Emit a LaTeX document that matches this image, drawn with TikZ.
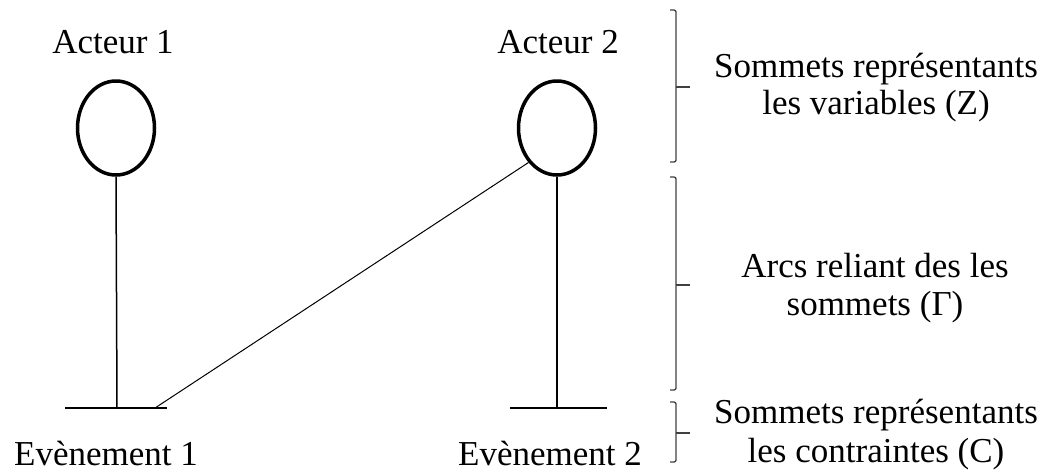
\documentclass[tikz,border=0pt]{standalone}
\usepackage{fontspec}
\setmainfont{Liberation Serif}
\usetikzlibrary{shapes.geometric}
\begin{document}
\begin{tikzpicture}[x=1pt,y=-1pt,
  lbl/.style={font=\fontsize{35}{38}\selectfont, inner sep=0pt, anchor=base},
  var/.style={draw, ellipse, line width=3.5pt, minimum width=77pt, minimum height=94pt, inner sep=0pt},
  stem/.style={line width=1.5pt},
  bar/.style={line width=2pt},
  arc/.style={line width=1pt},
  brace/.style={line width=1.3pt, draw=black!75, rounded corners=2pt},
  tick/.style={line width=1.3pt, draw=black!75}
]
\useasboundingbox (0,0) rectangle (1056,472);
% actors
\node[lbl] (t1) at (113,53) {Acteur 1};
\node[lbl] (t2) at (558,53) {Acteur 2};
\node[var] (a1) at (116,128) {};
\node[var] (a2) at (557,128) {};
% events
\coordinate (e1l) at (65,408);
\coordinate (e1c) at (117,408);
\coordinate (e1r) at (167,408);
\coordinate (e1a) at (155,408);
\coordinate (e2l) at (510,408);
\coordinate (e2c) at (557,408);
\coordinate (e2r) at (607,408);
\draw[bar] (e1l) -- (e1r);
\draw[bar] (e2l) -- (e2r);
\draw[stem] (a1.south) -- (e1c);
\draw[stem] (a2.south) -- (e2c);
\draw[arc] (e1a) -- (a2.south west);
\node[lbl] (ev1) at (106,465) {Evènement 1};
\node[lbl] (ev2) at (550,465) {Evènement 2};
% braces
\coordinate (b1t) at (670,10);  \coordinate (b1b) at (670,162); \coordinate (b1m) at (690,87);
\coordinate (b2t) at (670,177); \coordinate (b2b) at (670,390); \coordinate (b2m) at (690,285);
\coordinate (b3t) at (670,402); \coordinate (b3b) at (670,462); \coordinate (b3m) at (690,433);
\draw[brace] (b1t) -- ++(6,0) -- ++(0,152) -- (b1b);
\draw[tick] (676,87) -- (b1m);
\draw[brace] (b2t) -- ++(6,0) -- ++(0,213) -- (b2b);
\draw[tick] (676,285) -- (b2m);
\draw[brace] (b3t) -- ++(6,0) -- ++(0,60) -- (b3b);
\draw[tick] (676,433) -- (b3m);
% right labels
\node[lbl] (r1a) at (876,77) {Sommets représentants};
\node[lbl] (r1b) at (876,114) {les variables (Z)};
\node[lbl] (r2a) at (875,277) {Arcs reliant des les};
\node[lbl] (r2b) at (875,315) {sommets (Γ)};
\node[lbl] (r3a) at (876,423) {Sommets représentants};
\node[lbl] (r3b) at (876,462) {les contraintes (C)};
\end{tikzpicture}
\end{document}
